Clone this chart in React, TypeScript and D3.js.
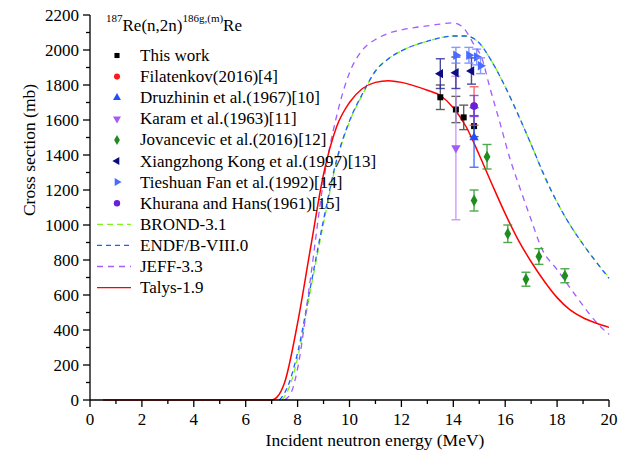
import React from 'react';
import * as d3 from 'd3';

const width = 632;
const height = 457;
const margin = { top: 15, right: 23, bottom: 57, left: 90 };

// evaluated curves (energy in MeV, cross section in mb)
const talysE = [0.5, 7.0, 7.2, 7.5, 8, 8.5, 9, 9.5, 10, 10.5, 11, 11.5, 12, 12.5, 13, 13.5, 14, 14.5, 15, 15.5, 16, 16.5, 17, 17.5, 18, 18.5, 19, 19.5, 20];
const talysXS = [0, 0, 15, 100, 440, 870, 1290, 1560, 1700, 1780, 1815, 1825, 1815, 1795, 1770, 1740, 1670, 1560, 1400, 1230, 1065, 915, 790, 680, 585, 515, 470, 440, 415];

const brondE = [7.4, 7.7, 8, 8.5, 9, 9.5, 10, 10.5, 11, 11.5, 12, 13, 13.5, 14, 14.5, 15, 15.5, 16, 16.5, 17, 17.5, 18, 18.5, 19, 19.5, 20];
const brondXS = [0, 80, 240, 630, 1010, 1360, 1590, 1745, 1880, 1950, 1995, 2050, 2070, 2080, 2080, 2040, 1930, 1790, 1630, 1460, 1280, 1130, 1000, 890, 790, 700];

const endfE = [7.3, 7.6, 8, 8.5, 9, 9.5, 10, 10.5, 11, 11.5, 12, 13, 13.5, 14, 14.5, 15, 15.5, 16, 16.5, 17, 17.5, 18, 18.5, 19, 19.5, 20];
const endfXS = [0, 70, 270, 650, 1030, 1370, 1595, 1750, 1880, 1950, 1995, 2050, 2070, 2080, 2080, 2040, 1930, 1790, 1630, 1460, 1285, 1130, 1000, 890, 790, 695];

const jeffE = [7.5, 7.8, 8, 8.5, 9, 9.5, 10, 10.5, 11, 11.5, 12, 12.5, 13, 13.5, 14, 14.4, 14.8, 15.1, 15.4, 15.8, 16.2, 16.5, 17, 17.4, 18, 18.7, 19.2, 19.6, 20];
const jeffXS = [0, 60, 180, 700, 1250, 1620, 1870, 2000, 2060, 2095, 2115, 2128, 2138, 2148, 2155, 2125, 2030, 1954, 1790, 1583, 1371, 1240, 1030, 868, 745, 600, 500, 430, 375];

// measurements: energy, cross section, error
const thisWork = [[13.5, 1730, 70], [14.1, 1660, 75], [14.4, 1615, 70], [14.8, 1565, 60]];
const filatenkov = [[14.8, 1680, 110]];
const druzhinin = [[14.8, 1500, 170]];
const karam = [[14.1, 1440, 410]];
const jovancevic = [[14.8, 1140, 60], [15.3, 1390, 70], [16.1, 950, 50], [16.8, 690, 40], [17.3, 820, 45], [18.3, 710, 40]];
const kong = [[13.5, 1865, 85], [14.1, 1870, 90], [14.7, 1880, 75]];
const fan = [[14.1, 1970, 45], [14.6, 1970, 45], [14.9, 1960, 45], [15.05, 1910, 45]];
const khurana = [[14.8, 1680, 60]];

const xTicks = d3.range(0, 21, 2);
const yTicks = d3.range(0, 2201, 200);

const font = "'Liberation Serif', 'Times New Roman', serif";

const x = d3.scaleLinear().domain([0, 20]).range([margin.left, width - margin.right]);
const y = d3.scaleLinear().domain([0, 2200]).range([height - margin.bottom, margin.top]);

const sym = (type, size) => d3.symbol().type(type).size(size)();

const markerSets = [
  { label: 'This work', data: thisWork, color: '#000000', bar: '#444444', shape: sym(d3.symbolSquare, 36), rot: 0 },
  { label: 'Filatenkov(2016)[4]', data: filatenkov, color: '#ff1a1a', bar: '#ff4d4d', shape: sym(d3.symbolCircle, 40), rot: 0 },
  { label: 'Druzhinin et al.(1967)[10]', data: druzhinin, color: '#1f4fff', bar: '#2a5cff', shape: sym(d3.symbolTriangle, 38), rot: 0 },
  { label: 'Karam et al.(1963)[11]', data: karam, color: '#a25cf5', bar: '#c08cff', shape: sym(d3.symbolTriangle, 38), rot: 180 },
  { label: 'Jovancevic et al.(2016)[12]', data: jovancevic, color: '#1e8c1e', bar: '#2e9a2e', shape: sym(d3.symbolDiamond, 40), rot: 0 },
  { label: 'Xiangzhong Kong et al.(1997)[13]', data: kong, color: '#0c0c80', bar: '#2a2a95', shape: sym(d3.symbolTriangle, 38), rot: -90 },
  { label: 'Tieshuan Fan et al.(1992)[14]', data: fan, color: '#4a6bff', bar: '#7088ff', shape: sym(d3.symbolTriangle, 38), rot: 90 },
  { label: 'Khurana and Hans(1961)[15]', data: khurana, color: '#6a1fd8', bar: '#7a3ae0', shape: sym(d3.symbolCircle, 44), rot: 0 },
];

const lineSets = [
  { label: 'BROND-3.1', e: brondE, v: brondXS, color: '#7cf51e', dash: '6,4', w: 1.3 },
  { label: 'ENDF/B-VIII.0', e: endfE, v: endfXS, color: '#1f5fff', dash: '5,4', w: 1.3 },
  { label: 'JEFF-3.3', e: jeffE, v: jeffXS, color: '#a45cff', dash: '6,5', w: 1.3 },
  { label: 'Talys-1.9', e: talysE, v: talysXS, color: '#ff0000', dash: null, w: 1.5 },
];

const lineGen = d3.line().x(d => x(d[0])).y(d => y(d[1])).curve(d3.curveMonotoneX);

const T = ({ children, ...rest }) => (
  <text {...rest} style={{ fontFamily: font }}>{children}</text>
);

export default function App() {
  const x0 = margin.left;
  const y0 = height - margin.bottom;
  const legendY = i => 55.5 + 21.1 * i;
  const minorX = d3.range(1, 20, 2);
  const minorY = d3.range(100, 2200, 200);

  return (
    <svg width={width} height={height} style={{ position: 'absolute', left: 0, top: 0, background: '#fff', fontFamily: font }}>
      {/* curves */}
      {lineSets.map(s => (
        <path key={s.label} d={lineGen(s.e.map((e, i) => [e, s.v[i]]))} fill="none" stroke={s.color}
          strokeWidth={s.w} strokeDasharray={s.dash || undefined} />
      ))}

      {/* measured points with error bars */}
      {markerSets.map(s => (
        <g key={s.label}>
          {s.data.map((d, i) => {
            const px = x(d[0]);
            const top = y(d[1] + d[2]);
            const bot = y(d[1] - d[2]);
            return (
              <g key={i}>
                <g stroke={s.bar} strokeWidth={1.4} opacity={0.85}>
                  <line x1={px} x2={px} y1={top} y2={bot} />
                  <line x1={px - 4.5} x2={px + 4.5} y1={top} y2={top} />
                  <line x1={px - 4.5} x2={px + 4.5} y1={bot} y2={bot} />
                </g>
                <path d={s.shape} fill={s.color} transform={`translate(${px},${y(d[1])}) rotate(${s.rot})`} />
              </g>
            );
          })}
        </g>
      ))}

      {/* axes */}
      <g stroke="#000" strokeWidth={1.3}>
        <line x1={x0} x2={x(20)} y1={y0} y2={y0} />
        <line x1={x0} x2={x0} y1={y0} y2={y(2200)} />
        {xTicks.map(t => <line key={'xt' + t} x1={x(t)} x2={x(t)} y1={y0} y2={y0 + 7} />)}
        {minorX.map(t => <line key={'xm' + t} x1={x(t)} x2={x(t)} y1={y0} y2={y0 + 4} />)}
        {yTicks.map(t => <line key={'yt' + t} x1={x0 - 7} x2={x0} y1={y(t)} y2={y(t)} />)}
        {minorY.map(t => <line key={'ym' + t} x1={x0 - 4} x2={x0} y1={y(t)} y2={y(t)} />)}
      </g>
      {xTicks.map(t => (
        <T key={'xl' + t} x={x(t)} y={y0 + 25} textAnchor="middle" fontSize={17}>{t}</T>
      ))}
      {yTicks.map(t => (
        <T key={'yl' + t} x={x0 - 11} y={y(t) + 5.5} textAnchor="end" fontSize={17}>{t}</T>
      ))}
      <T x={375} y={446} textAnchor="middle" fontSize={17.5}>Incident neutron energy (MeV)</T>
      <T transform={`translate(35,150) rotate(-90)`} textAnchor="middle" fontSize={17.5}>Cross section (mb)</T>

      {/* title */}
      <T x={106} y={30.5} fontSize={17}>
        <tspan fontSize={11} dy={-9}>187</tspan>
        <tspan dy={9}>Re(n,2n)</tspan>
        <tspan fontSize={11} dy={-9}>186g,(m)</tspan>
        <tspan dy={9}>Re</tspan>
      </T>

      {/* legend */}
      {markerSets.map((s, i) => (
        <g key={'lg' + s.label}>
          <path d={s.shape} fill={s.color} transform={`translate(117,${legendY(i)}) rotate(${s.rot}) scale(0.85)`} />
          <T x={140} y={legendY(i) + 5.5} fontSize={17}>{s.label}</T>
        </g>
      ))}
      {lineSets.map((s, j) => {
        const ly = legendY(markerSets.length + j);
        return (
          <g key={'ll' + s.label}>
            <line x1={97} x2={131} y1={ly} y2={ly} stroke={s.color} strokeWidth={1.3} strokeDasharray={s.dash || undefined} />
            <T x={140} y={ly + 5.5} fontSize={17}>{s.label}</T>
          </g>
        );
      })}
    </svg>
  );
}
